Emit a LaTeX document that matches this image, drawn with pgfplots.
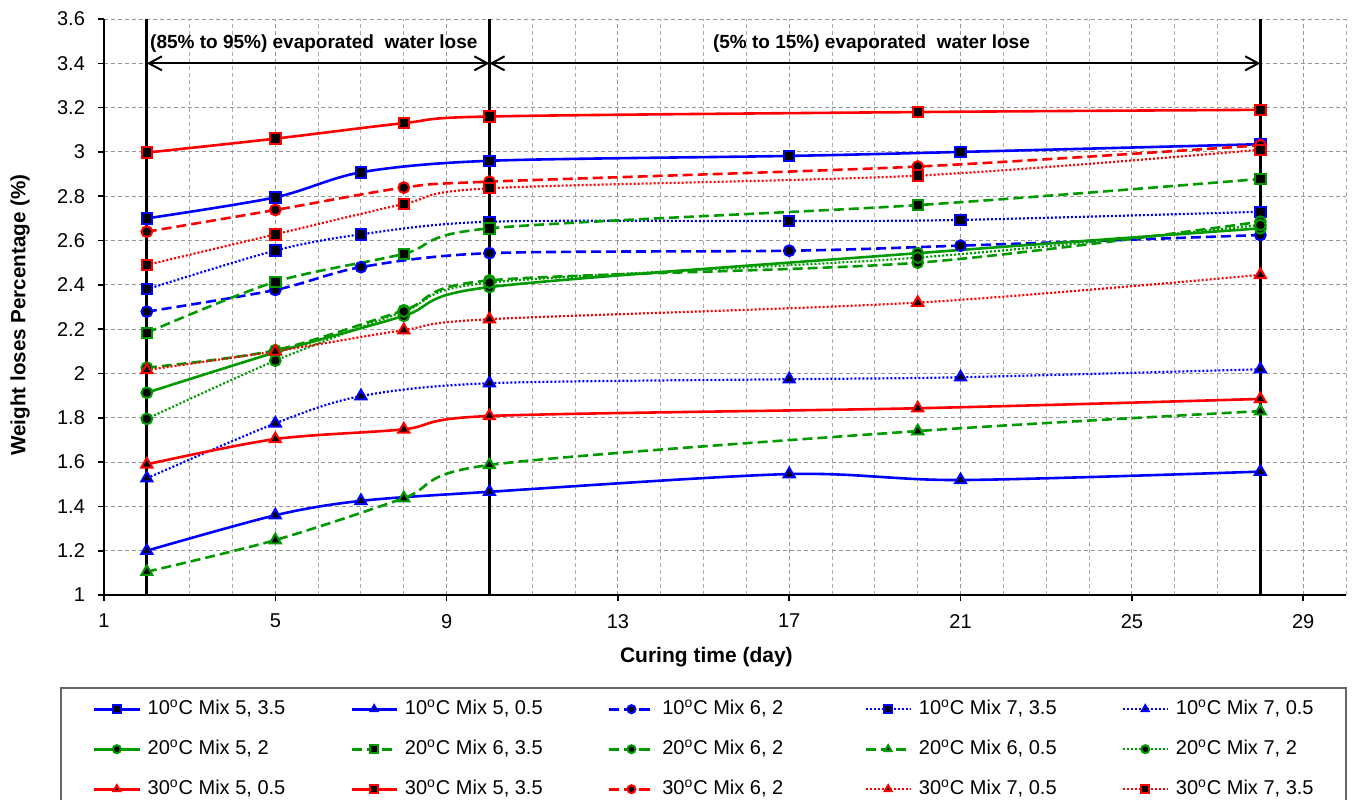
\documentclass[border=0pt]{standalone}
\usepackage{fontspec}
\setmainfont{Liberation Sans}
\usepackage{pgfplots}
\pgfplotsset{compat=1.18}
\usetikzlibrary{arrows.meta}
\definecolor{cB}{RGB}{0,0,255}
\definecolor{cG}{RGB}{0,153,0}
\definecolor{cR}{RGB}{255,0,0}
\definecolor{gridc}{RGB}{150,150,150}
\pgfplotsset{
 mk/.style={mark options={solid, fill=black, line width=1pt}},
 sq/.style={mark=square*, mark size=2.6pt, mk},
 ci/.style={mark=*, mark size=2.7pt, mk},
 tr/.style={mark=triangle*, mark size=3.2pt, mk},
 lsol/.style={solid, line width=1.3pt, smooth},
 ldash/.style={dash pattern=on 5pt off 2.5pt, line width=1.3pt, smooth},
 ldot/.style={dash pattern=on 1pt off 1pt, line width=1.1pt, smooth},
}
\newcommand{\padc}{\hspace*{8pt}}
\begin{document}
\begin{tikzpicture}
\begin{axis}[
 scale only axis, width=621pt, height=288pt,
 xmin=1, xmax=30, ymin=1, ymax=3.6,
 axis x line=bottom, axis y line=left,
 axis line style={-, line width=1pt, black},
 xtick={1,5,...,29},
 minor xtick={1,2,...,30},
 ytick={1,1.2,1.4,1.6,1.8,2,2.2,2.4,2.6,2.8,3,3.2,3.4,3.6},
 tick align=outside, major tick length=3pt, minor tick length=0pt,
 tick style={black, line width=0.8pt},
 grid=both,
 major grid style={gridc, dash pattern=on 2pt off 1.5pt, line width=0.5pt},
 minor grid style={gridc!80, dash pattern=on 2pt off 1.5pt, line width=0.5pt},
 /pgf/number format/assume math mode=true,
 ticklabel style={font=\fontsize{10}{12}\selectfont},
 yticklabel style={xshift=-3pt},
 xticklabel style={yshift=-3pt},
 xlabel={Curing time (day)},
 ylabel={Weight loses Percentage (\%)},
 xlabel style={at={(axis description cs:0.485,-0.1076)}, anchor=center, font=\bfseries\fontsize{10.5}{12}\selectfont},
 ylabel style={at={(axis description cs:-0.0676,0.486)}, anchor=center, font=\bfseries\fontsize{10.3}{12}\selectfont},
 legend columns=5,
 legend cell align=left,
 legend image code/.code={\draw[mark repeat=2,mark phase=2,#1,mark size=2pt] plot coordinates {(0pt,0pt)(11.25pt,0pt)(22.5pt,0pt)};},
 legend style={at={(-0.0354,-0.1597)}, anchor=north west, draw=gray!80!black, line width=1pt,
   font=\fontsize{10}{12}\selectfont, inner xsep=16pt, inner ysep=6pt,
   column sep=3.5pt, row sep=10.8pt,
   /tikz/every even column/.append style={column sep=32.5pt},
   nodes={inner xsep=0pt, inner ysep=0pt, text height=7.2pt, text depth=2pt}},
]
% 10C
\addplot[cB, lsol, sq] coordinates {(2,2.70)(5,2.795)(7,2.908)(10,2.96)(17,2.982)(21,3.00)(28,3.035)};
\addlegendentry{10\textsuperscript{o}C Mix 5, 3.5}
\addplot[cB, lsol, tr] coordinates {(2,1.20)(5,1.36)(7,1.425)(10,1.466)(17,1.546)(21,1.519)(28,1.557)};
\addlegendentry{10\textsuperscript{o}C Mix 5, 0.5}
\addplot[cB, ldash, ci] coordinates {(2,2.279)(5,2.377)(7,2.48)(10,2.543)(17,2.554)(21,2.577)(28,2.625)};
\addlegendentry{10\textsuperscript{o}C Mix 6, 2\padc}
\addplot[cB, ldot, sq] coordinates {(2,2.38)(5,2.555)(7,2.628)(10,2.685)(17,2.688)(21,2.693)(28,2.73)};
\addlegendentry{10\textsuperscript{o}C Mix 7, 3.5}
\addplot[cB, ldot, tr] coordinates {(2,1.527)(5,1.775)(7,1.898)(10,1.956)(17,1.974)(21,1.983)(28,2.019)};
\addlegendentry{10\textsuperscript{o}C Mix 7, 0.5}
% 20C
\addplot[cG, lsol, ci] coordinates {(2,1.913)(5,2.095)(8,2.26)(10,2.39)(20,2.543)(28,2.655)};
\addlegendentry{20\textsuperscript{o}C Mix 5, 2}
\addplot[cG, ldash, sq] coordinates {(2,2.184)(5,2.414)(8,2.54)(10,2.655)(20,2.76)(28,2.878)};
\addlegendentry{20\textsuperscript{o}C Mix 6, 3.5}
\addplot[cG, ldash, ci] coordinates {(2,2.026)(5,2.105)(8,2.285)(10,2.42)(20,2.50)(28,2.685)};
\addlegendentry{20\textsuperscript{o}C Mix 6, 2\padc}
\addplot[cG, ldash, tr] coordinates {(2,1.105)(5,1.248)(8,1.437)(10,1.587)(20,1.74)(28,1.83)};
\addlegendentry{20\textsuperscript{o}C Mix 6, 0.5}
\addplot[cG, ldot, ci] coordinates {(2,1.795)(5,2.058)(8,2.28)(10,2.41)(20,2.523)(28,2.67)};
\addlegendentry{20\textsuperscript{o}C Mix 7, 2}
% 30C
\addplot[cR, lsol, tr] coordinates {(2,1.59)(5,1.704)(8,1.748)(10,1.808)(20,1.843)(28,1.885)};
\addlegendentry{30\textsuperscript{o}C Mix 5, 0.5}
\addplot[cR, lsol, sq] coordinates {(2,2.997)(5,3.06)(8,3.13)(10,3.16)(20,3.18)(28,3.19)};
\addlegendentry{30\textsuperscript{o}C Mix 5, 3.5}
\addplot[cR, ldash, ci] coordinates {(2,2.64)(5,2.738)(8,2.839)(10,2.866)(20,2.934)(28,3.03)};
\addlegendentry{30\textsuperscript{o}C Mix 6, 2\padc}
\addplot[cR, ldot, tr] coordinates {(2,2.016)(5,2.10)(8,2.196)(10,2.245)(20,2.32)(28,2.445)};
\addlegendentry{30\textsuperscript{o}C Mix 7, 0.5}
\addplot[cR, ldot, sq] coordinates {(2,2.49)(5,2.628)(8,2.765)(10,2.836)(20,2.893)(28,3.01)};
\addlegendentry{30\textsuperscript{o}C Mix 7, 3.5}
% vertical separators
\addplot[black, line width=1.4pt, forget plot] coordinates {(2,1)(2,3.6)};
\addplot[black, line width=1.4pt, forget plot] coordinates {(10,1)(10,3.6)};
\addplot[black, line width=1.4pt, forget plot] coordinates {(28,1)(28,3.6)};
\draw[{Straight Barb[length=6.5pt,width=7pt]}-{Straight Barb[length=6.5pt,width=7pt]}, line width=1pt] (axis cs:2,3.4) -- (axis cs:10,3.4);
\draw[{Straight Barb[length=6.5pt,width=7pt]}-{Straight Barb[length=6.5pt,width=7pt]}, line width=1pt] (axis cs:10,3.4) -- (axis cs:28,3.4);
\node[font=\bfseries\fontsize{9.5}{11}\selectfont] at (axis cs:5.9,3.49) {(85\% to 95\%) evaporated\ \ water lose};
\node[font=\bfseries\fontsize{9.5}{11}\selectfont] at (axis cs:18.92,3.49) {(5\% to 15\%) evaporated\ \ water lose};
\end{axis}
\pgfresetboundingbox
\useasboundingbox ([shift={(-52pt,-102pt)}]current axis.south west) rectangle ([shift={(624pt,297.5pt)}]current axis.south west);
\end{tikzpicture}
\end{document}
